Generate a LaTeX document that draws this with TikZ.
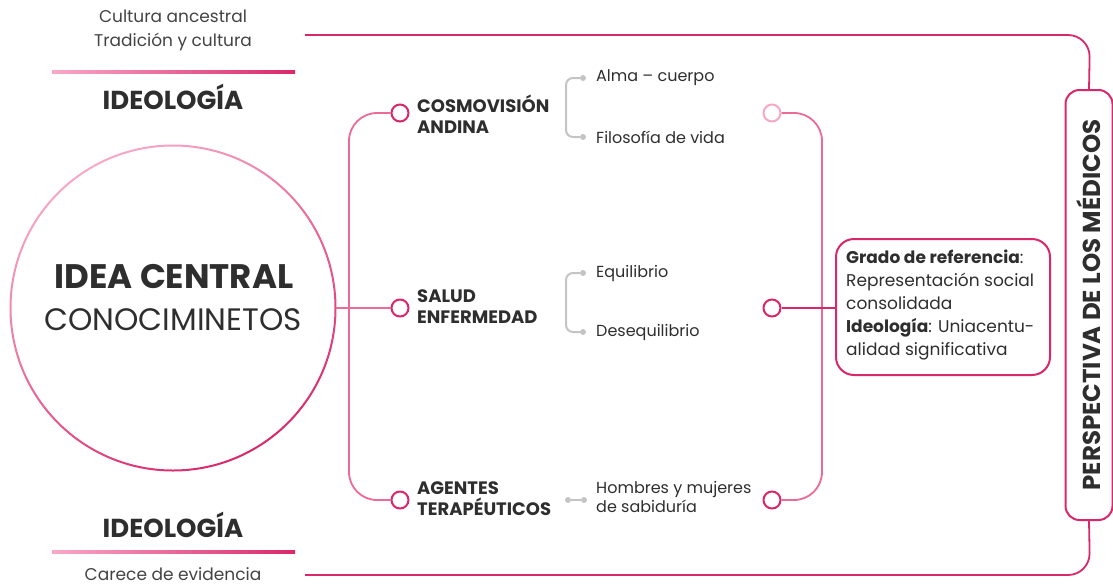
\documentclass[tikz,border=0pt]{standalone}
\usepackage{fontspec}
\setmainfont{Poppins}
\usetikzlibrary{calc}
\definecolor{pkL}{HTML}{F7A8C6}
\definecolor{pkM}{HTML}{EC6A98}
\definecolor{pkD}{HTML}{D9286A}
\definecolor{txt}{HTML}{2E2E2E}
\definecolor{gr}{HTML}{C4C4C4}
\begin{document}
\begin{tikzpicture}[x=1pt,y=-1pt,
  lab/.style={font=\fontsize{18}{21}\selectfont\bfseries, text=txt, align=left, anchor=west, inner sep=0pt},
  sub/.style={font=\fontsize{16}{19.5}\selectfont, text=txt, anchor=west, inner sep=0pt, align=left},
  dotg/.style={circle, fill=gr, minimum size=6pt, inner sep=0pt},
  hub/.style={circle, draw, line width=2pt, minimum size=17pt, inner sep=0pt, fill=white},
  pline/.style={line width=1.8pt},
  gline/.style={gr, line width=2pt},
  top/.style={font=\fontsize{17}{24}\selectfont, text=txt!90, align=center, inner sep=0pt},
  ideo/.style={font=\fontsize{26}{28}\selectfont\bfseries, text=txt, inner sep=0pt}]
\useasboundingbox (0,0) rectangle (1113,587);

% top-left
\node[top] (cult) at (173,30) {Cultura ancestral\\Tradición y cultura};
\shade[left color=pkL, right color=pkD] (52,70.5) rectangle (295,73.5);
\node[ideo] (ideo1) at (173,97) {IDEOLOGÍA};
% bottom-left
\node[ideo] (ideo2) at (173,525) {IDEOLOGÍA};
\shade[left color=pkL, right color=pkD] (52,550.5) rectangle (295,553.5);
\node[top] (carece) at (173,574) {Carece de evidencia};

% central circle
\node[circle, minimum size=326pt, inner sep=0pt] (central) at (173,308) {};
\shade[top color=pkL, bottom color=pkD, shading angle=30, even odd rule]
  (173,308) circle (163.5) (173,308) circle (161.5);
\node[font=\fontsize{34}{36}\selectfont\bfseries, text=txt, inner sep=0pt] (idea) at (174,277) {IDEA CENTRAL};
\node[font=\fontsize{31}{33}\selectfont, text=txt, inner sep=0pt] (conoc) at (173,320) {CONOCIMINETOS};

% left hubs
\node[hub, draw=pkD] (s1) at (400,113) {};
\node[hub, draw=pkD] (s2) at (400,308) {};
\node[hub, draw=pkD] (s3) at (400,500) {};
\draw[pline, pkM, rounded corners=28pt] (s1.west) -- (349,113) -- (349,500) -- (s3.west);
\draw[pline, pkM] (central.east) -- (s2.west);

% labels
\node[lab] (cosmo) at (417,114) {COSMOVISIÓN\\ANDINA};
\node[lab] (salud) at (417,307) {SALUD\\ENFERMEDAD};
\node[lab] (agent) at (417,499) {AGENTES\\TERAPÉUTICOS};

% gray brackets
\node[dotg] (a1) at (583,78) {};
\node[dotg] (a2) at (583,137) {};
\draw[gline, rounded corners=7pt] (a1) -- (566,78) -- (566,137) -- (a2);
\node[sub] (alma) at (596,78) {Alma – cuerpo};
\node[sub] (filo) at (596,137) {Filosofía de vida};

\node[dotg] (b1) at (583,273) {};
\node[dotg] (b2) at (583,332) {};
\draw[gline, rounded corners=7pt] (b1) -- (566,273) -- (566,332) -- (b2);
\node[sub] (equi) at (596,273) {Equilibrio};
\node[sub] (deseq) at (596,332) {Desequilibrio};

\node[dotg] (c1) at (568,500) {};
\node[dotg] (c2) at (584,500) {};
\draw[gline] (c1) -- (c2);
\node[sub] (hom) at (596,497) {Hombres y mujeres\\de sabiduría};

% right hubs
\node[hub, draw=pkL] (r1) at (772,113) {};
\node[hub, draw=pkD] (r2) at (772,308) {};
\node[hub, draw=pkD] (r3) at (772,500) {};

% box
\node[draw=pkD, line width=2pt, rounded corners=18pt, minimum width=214pt, minimum height=136pt,
      inner sep=0pt] (box) at (943,307) {};
\node[font=\fontsize{17}{23}\selectfont, text=txt, align=left, anchor=north west, inner sep=0pt] (boxtxt) at (846,250)
  {\textbf{Grado de referencia}:\\Representación social\\consolidada\\\textbf{Ideología}: Uniacentu-\\alidad significativa};

\draw[pline, pkM, rounded corners=28pt] (r1.east) -- (822,113) -- (822,500) -- (r3.east);
\draw[pline, pkD] (r2.east) -- (r2.east -| box.west);

% right tall box
\node[draw=pkD, line width=2pt, rounded corners=14pt, rotate=90, minimum width=430pt, minimum height=47pt,
      font=\fontsize{24.5}{26}\selectfont\bfseries, text=txt, inner sep=0pt] (persp) at (1089,305) {PERSPECTIVA DE LOS MÉDICOS};
\coordinate (tl) at (305,35);
\coordinate (bl) at (305,575);
\draw[pline, pkD, rounded corners=22pt] (tl) -- (1090,35) -- (persp.east);
\draw[pline, pkD, rounded corners=22pt] (bl) -- (1090,575) -- (persp.west);
\end{tikzpicture}
\end{document}
